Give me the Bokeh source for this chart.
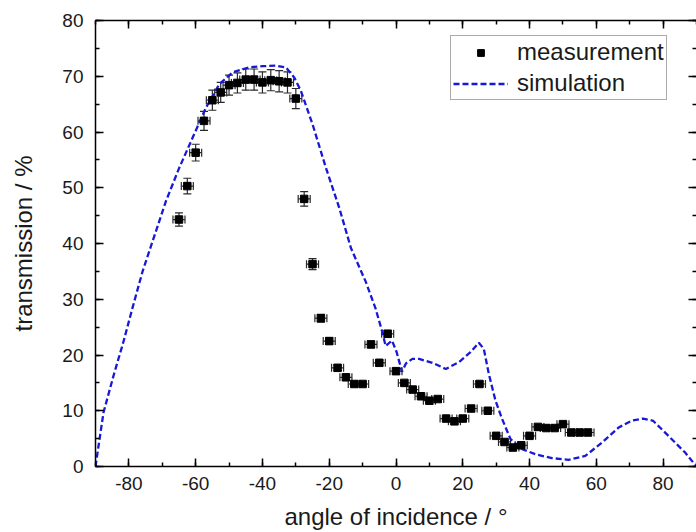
import numpy as np
from bokeh.plotting import figure
from bokeh.models import (ColumnDataSource, Whisker, TeeHead, LinearAxis, Legend,
                          LegendItem, Range1d, FixedTicker, CustomJSTickFormatter)
from bokeh.embed import file_html
from bokeh.resources import INLINE

# ---- data ----
meas_angle = [-65, -62.5, -60, -57.5, -55, -52.5, -50, -47.5, -45, -42.5, -40, -37.5,
              -35, -32.5, -30, -27.5, -25, -22.5, -20, -17.5, -15, -12.5, -10, -7.5,
              -5, -2.5, 0, 2.5, 5, 7.5, 10, 12.5, 15, 17.5, 20, 22.5, 25, 27.5, 30,
              32.5, 35, 37.5, 40, 42.5, 45, 47.5, 50, 52.5, 55, 57.5]
meas_trans = [44.3, 50.3, 56.3, 62.0, 65.7, 67.1, 68.4, 68.8, 69.4, 69.4, 68.9, 69.3,
              69.1, 68.9, 66.0, 48.0, 36.3, 26.6, 22.5, 17.7, 16.0, 14.8, 14.8, 21.9,
              18.6, 23.8, 17.1, 15.0, 13.8, 12.6, 11.8, 12.1, 8.6, 8.1, 8.6, 10.4, 14.8,
              10.0, 5.5, 4.4, 3.4, 3.8, 5.5, 7.1, 6.9, 6.9, 7.6, 6.1, 6.1, 6.1]
meas_err = [1.2, 1.4, 1.5, 1.7, 1.8, 1.8, 1.8, 1.8, 1.9, 1.9, 1.9, 1.9,
            1.9, 1.9, 1.8, 1.3, 1.0, 0.7, 0.6, 0.5, 0.4, 0.4, 0.4, 0.6,
            0.5, 0.6, 0.5, 0.4, 0.4, 0.3, 0.3, 0.3, 0.3, 0.3, 0.3, 0.3, 0.4,
            0.3, 0.3, 0.3, 0.3, 0.3, 0.3, 0.3, 0.3, 0.3, 0.3, 0.3, 0.3, 0.3]
angle_err = 1.8

sim_angle = [-90, -87.6, -84.5, -81.8, -78.9, -75.9, -72.9, -68.9, -64.9, -60.9, -56.9,
             -52.9, -48.9, -44, -40, -36, -33, -30.5, -28.5, -25, -21, -17, -13.5, -9.1,
             -6.1, -4.1, -3.1, -1.2, 0.2, 1.8, 3.0, 4.9, 6.9, 10.9, 14.9, 18.8, 22.3,
             24.8, 26.3, 27.8, 29.8, 31.8, 34.3, 37.8, 42.3, 46.7, 51.7, 56.7, 61.7,
             66.7, 70.5, 74.0, 77.0, 81.6, 86.6, 90]
sim_trans = [0, 9.7, 16.5, 22.0, 28.5, 35.0, 40.4, 47.6, 53.6, 59.0, 64.4,
             68.6, 70.7, 71.6, 71.8, 71.9, 71.6, 69.8, 67.4, 61.4, 53.6, 46.4, 39.2, 33.2,
             28.3, 24.1, 21.6, 22.6, 20.5, 17.0, 18.5, 19.3, 19.3, 18.6, 17.5, 18.7, 20.5,
             22.2, 21.1, 16.6, 11.8, 8.5, 4.9, 3.1, 2.1, 1.5, 1.2, 1.9, 4.3,
             7.0, 8.2, 8.6, 8.2, 5.5, 2.5, 0]

x_ticks = [-80, -60, -40, -20, 0, 20, 40, 60, 80]
x_tick_labels = ["-80", "-60", "-40", "-20", "0", "20", "40", "60", "80"]
x_minor = list(range(-90, 91, 10))
y_ticks = [0, 10, 20, 30, 40, 50, 60, 70, 80]
y_minor = list(range(0, 81, 5))

FONT = "Liberation Sans"
INK = "#1a1a1a"

ma = np.array(meas_angle, dtype=float)
mt = np.array(meas_trans, dtype=float)
me = np.array(meas_err, dtype=float)
src = ColumnDataSource(dict(x=ma, y=mt, yl=mt - me, yu=mt + me,
                            xl=ma - angle_err, xu=ma + angle_err))

p = figure(width=696, height=532, x_range=Range1d(-90, 90), y_range=Range1d(0, 80),
           output_backend="svg", toolbar_location=None,
           min_border_left=95, min_border_top=20, min_border_right=0, min_border_bottom=0)
p.xgrid.visible = False
p.ygrid.visible = False
p.outline_line_color = None
p.background_fill_color = "white"
p.border_fill_color = "white"

# simulation line
ln = p.line(sim_angle, sim_trans, line_color="#1818d8", line_width=2.3, line_dash="6 3")

# error bars
cap = 8
ecol = "#2a2a2a"
vw = Whisker(source=src, base="x", lower="yl", upper="yu", dimension="height",
             line_color=ecol, line_width=1.2,
             lower_head=TeeHead(size=cap, line_color=ecol, line_width=1.2),
             upper_head=TeeHead(size=cap, line_color=ecol, line_width=1.2))
hw = Whisker(source=src, base="y", lower="xl", upper="xu", dimension="width",
             line_color=ecol, line_width=1.2,
             lower_head=TeeHead(size=cap, line_color=ecol, line_width=1.2),
             upper_head=TeeHead(size=cap, line_color=ecol, line_width=1.2))
p.add_layout(vw)
p.add_layout(hw)

sq = p.scatter("x", "y", source=src, marker="square", size=7.5,
               fill_color="black", line_color="black")

xt = FixedTicker(ticks=x_ticks, minor_ticks=x_minor)
yt = FixedTicker(ticks=y_ticks, minor_ticks=y_minor)

def style(ax):
    ax.axis_line_color = "black"
    ax.axis_line_width = 1.5
    ax.major_tick_line_color = "black"
    ax.minor_tick_line_color = "black"
    ax.major_tick_line_width = 1.5
    ax.minor_tick_line_width = 1.5
    ax.major_tick_in = 8
    ax.major_tick_out = 0
    ax.minor_tick_in = 4
    ax.minor_tick_out = 0
    ax.major_label_text_font = FONT
    ax.major_label_text_color = INK
    ax.axis_label_text_font = FONT
    ax.axis_label_text_font_style = "normal"
    ax.axis_label_text_color = INK

xa = p.xaxis[0]
ya = p.yaxis[0]
xa.ticker = xt
ya.ticker = yt
style(xa)
style(ya)
xa.major_label_overrides = {t: s for t, s in zip(x_ticks, x_tick_labels)}
xa.major_label_text_font_size = "19px"
ya.major_label_text_font_size = "19px"
xa.axis_label = "angle of incidence / °"
ya.axis_label = "transmission / %"
xa.axis_label_text_font_size = "24px"
ya.axis_label_text_font_size = "24px"
xa.major_label_standoff = 10
ya.major_label_standoff = 12
xa.axis_label_standoff = 10
ya.axis_label_standoff = 22

blank = CustomJSTickFormatter(code="return '';")
ta = LinearAxis(ticker=FixedTicker(ticks=x_ticks, minor_ticks=x_minor), formatter=blank)
ra = LinearAxis(ticker=FixedTicker(ticks=y_ticks, minor_ticks=y_minor), formatter=blank)
style(ta)
style(ra)
for ax in (ta, ra):
    ax.major_label_standoff = 0
    ax.major_label_text_font_size = "1px"
ra.axis_line_color = None
p.add_layout(ta, "above")
p.add_layout(ra, "right")

legend = Legend(items=[LegendItem(label="measurement", renderers=[sq]),
                       LegendItem(label="simulation", renderers=[ln])],
                location=(355, 366))
legend.label_text_font = FONT
legend.label_text_font_size = "24px"
legend.label_text_color = INK
legend.border_line_color = "#555555"
legend.border_line_width = 1.2
legend.background_fill_color = "white"
legend.background_fill_alpha = 1
legend.padding = 2
legend.margin = 0
legend.spacing = 3
legend.glyph_width = 55
legend.glyph_height = 17
legend.label_height = 27
legend.label_standoff = 9
p.add_layout(legend)

open("out.html", "w").write(file_html(p, INLINE))
